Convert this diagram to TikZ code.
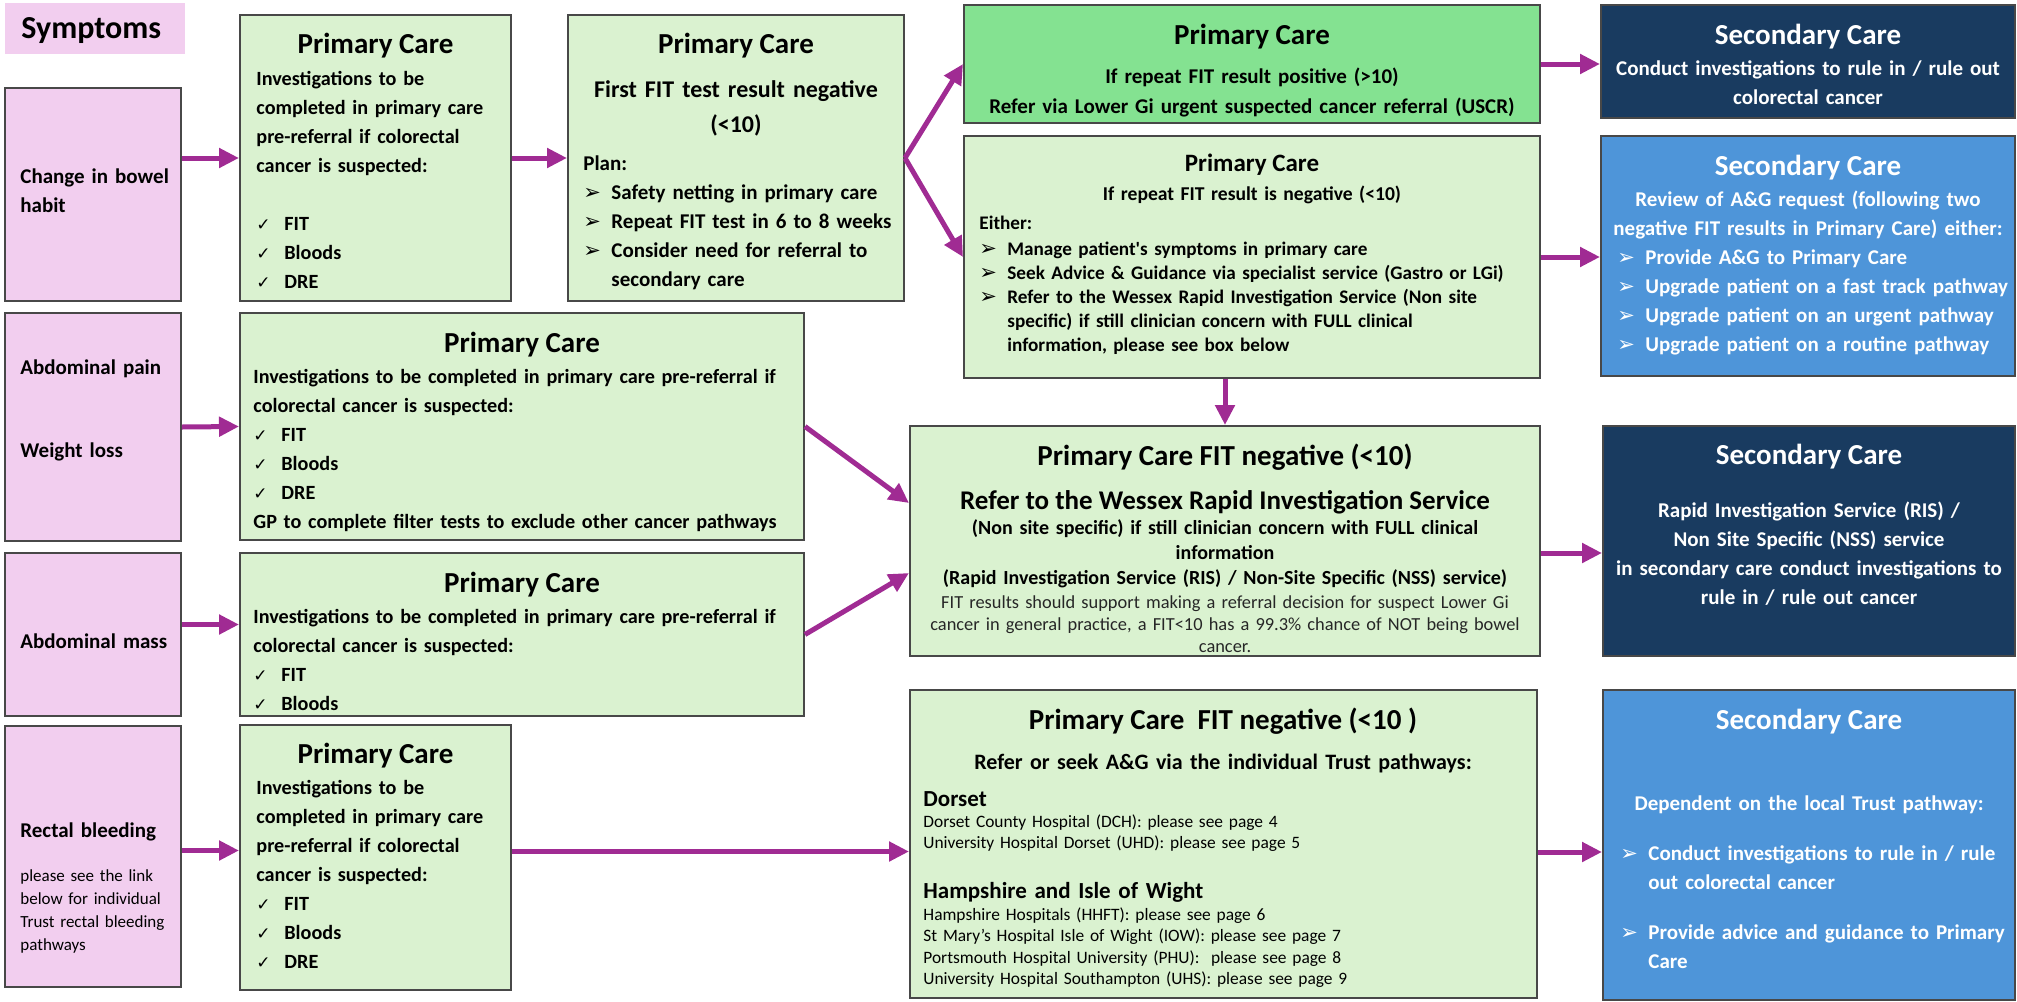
\documentclass[tikz,border=0pt]{standalone}
\usepackage{fontspec}
\setmainfont{Carlito}
\newfontfamily\dingfont{DejaVu Sans}
\usepackage{tikz}
\usetikzlibrary{arrows.meta,fit}

\definecolor{sympink}{RGB}{242,206,239}
\definecolor{pcgreen}{RGB}{218,242,208}
\definecolor{pcbright}{RGB}{132,226,145}
\definecolor{scnavy}{RGB}{25,59,96}
\definecolor{scblue}{RGB}{78,149,217}
\definecolor{flowpurple}{RGB}{160,43,147}
\definecolor{edgegrey}{RGB}{72,72,72}

\newcommand{\tickmark}{\makebox[14pt][l]{\dingfont\mdseries\fontsize{8.5}{10}\selectfont ✓}}
\newcommand{\arrowmark}{\makebox[14pt][l]{\dingfont\mdseries\fontsize{10.5}{10}\selectfont ➢}}
\newcommand{\contd}{\hspace*{14pt}}

\tikzstyle{card}=[draw=edgegrey, line width=1pt, inner sep=0pt]
\tikzstyle{symptom}=[card, fill=sympink]
\tikzstyle{primary}=[card, fill=pcgreen]
\tikzstyle{urgent}=[card, fill=pcbright]
\tikzstyle{secnavy}=[card, fill=scnavy]
\tikzstyle{secblue}=[card, fill=scblue]
\tikzstyle{headtext}=[inner sep=0pt, anchor=base, font=\fontsize{14.5}{17}\selectfont\bfseries]
\tikzstyle{bodytext}=[inner sep=0pt, anchor=base west, align=left, text width=250pt, font=\fontsize{10.5}{14.5}\selectfont\bfseries]
\tikzstyle{narrowtext}=[bodytext, font=\fontsize{10.1}{14.5}\selectfont\bfseries]
\tikzstyle{midtext}=[bodytext, anchor=base, align=center]
\tikzstyle{smalltext}=[inner sep=0pt, anchor=base west, align=left, text width=250pt, font=\fontsize{8.7}{10.75}\selectfont]
\tikzstyle{flowarrow}=[draw=flowpurple, line width=2.5pt, -{Triangle[length=10pt,width=9.5pt]}]

\begin{document}
\begin{tikzpicture}[x=0.5pt, y=-0.5pt]
		\useasboundingbox (0,0) rectangle (2017,1001);
		
		% symptoms column ----------------------------------------
		\node[fill=sympink, inner sep=0pt, fit={(5,3) (185,54)}] (symHead) {};
		\node[headtext, anchor=base west, font=\fontsize{16}{19}\selectfont\bfseries] (symHeadTxt) at (21,38) {Symptoms};
		
		\node[symptom, fit={(5,88) (181,301)}] (sBowel) {};
		\node[bodytext, text width=80pt] (tBowel) at (20,183) {Change in bowel\\habit};
		
		\node[symptom, fit={(5,313) (181,541)}] (sPain) {};
		\node[bodytext, text width=80pt] (tPain) at (20,374) {Abdominal pain};
		\node[bodytext, text width=80pt] (tWeight) at (20,457) {Weight loss};
		
		\node[symptom, fit={(5,553) (181,716)}] (sMass) {};
		\node[bodytext, text width=80pt] (tMass) at (20,648) {Abdominal mass};
		
		\node[symptom, fit={(5,726) (181,987)}] (sBleed) {};
		\node[bodytext, text width=80pt] (tBleed) at (20,837) {Rectal bleeding};
		\node[smalltext, text width=80pt, font=\fontsize{8.5}{11.5}\selectfont] (tBleedNote) at (20,881) {please see the link\\below for individual\\Trust rectal bleeding\\pathways};
		
		% primary care, first step --------------------------------
		\node[primary, fit={(240,15) (511,301)}] (pBowel) {};
		\node[headtext] (hBowel) at (375.5,53) {Primary Care};
		\node[narrowtext, text width=125pt] (bBowel) at (256,85) {Investigations to be\\completed in primary care\\pre-referral if colorectal\\cancer is suspected:\\[14.5pt]\tickmark FIT\\\tickmark Bloods\\\tickmark DRE};
		
		\node[primary, fit={(240,313) (804,540)}] (pPain) {};
		\node[headtext] (hPain) at (522,352) {Primary Care};
		\node[narrowtext, text width=275pt] (bPain) at (253,383) {Investigations to be completed in primary care pre-referral if\\colorectal cancer is suspected:\\\tickmark FIT\\\tickmark Bloods\\\tickmark DRE\\GP to complete filter tests to exclude other cancer pathways};
		
		\node[primary, fit={(240,553) (804,716)}] (pMass) {};
		\node[headtext] (hMass) at (522,592) {Primary Care};
		\node[narrowtext, text width=275pt] (bMass) at (253,623) {Investigations to be completed in primary care pre-referral if\\colorectal cancer is suspected:\\\tickmark FIT\\\tickmark Bloods};
		
		\node[primary, fit={(240,725) (511,990)}] (pBleed) {};
		\node[headtext] (hBleed) at (375.5,763) {Primary Care};
		\node[narrowtext, text width=125pt] (bBleed) at (256,794) {Investigations to be\\completed in primary care\\pre-referral if colorectal\\cancer is suspected:\\\tickmark FIT\\\tickmark Bloods\\\tickmark DRE};
		
		% first FIT result -----------------------------------------
		\node[primary, fit={(568,15) (904,301)}] (pFirst) {};
		\node[headtext] (hFirst) at (736,53) {Primary Care};
		\node[midtext, text width=160pt, font=\fontsize{12}{17.5}\selectfont\bfseries] (bFirst) at (736,97) {First FIT test result negative\\(<10)};
		\node[bodytext, text width=160pt] (bPlan) at (583,170) {Plan:\\\arrowmark Safety netting in primary care\\\arrowmark Repeat FIT test in 6 to 8 weeks\\\arrowmark Consider need for referral to\\\contd secondary care};
		
		% repeat FIT result ----------------------------------------
		\node[urgent, fit={(964,5) (1540,123)}] (pPos) {};
		\node[headtext] (hPos) at (1252,44) {Primary Care};
		\node[midtext, text width=275pt, font=\fontsize{10.5}{15}\selectfont\bfseries] (bPos) at (1252,83) {If repeat FIT result positive (>10)\\Refer via Lower Gi urgent suspected cancer referral (USCR)};
		
		\node[primary, fit={(964,136) (1540,378)}] (pNeg) {};
		\node[headtext, font=\fontsize{12.5}{15}\selectfont\bfseries] (hNeg) at (1252,171) {Primary Care};
		\node[midtext, text width=275pt, font=\fontsize{9.8}{12}\selectfont\bfseries] (bNeg) at (1252,200) {If repeat FIT result is negative (<10)};
		\node[bodytext, text width=275pt, font=\fontsize{9.6}{12}\selectfont\bfseries] (bEither) at (979,229) {Either:\\[1pt]\arrowmark Manage patient\textquotesingle s symptoms in primary care\\\arrowmark Seek Advice \& Guidance via specialist service (Gastro or LGi)\\\arrowmark Refer to the Wessex Rapid Investigation Service (Non site\\\contd specific) if still clinician concern with FULL clinical\\\contd information, please see box below};
		
		% rapid investigation service ------------------------------
		\node[primary, fit={(910,426) (1540,656)}] (pRis) {};
		\node[headtext] (hRis) at (1225,465) {Primary Care FIT negative (<10)};
		\node[headtext, font=\fontsize{13.5}{16}\selectfont\bfseries] (hRisRefer) at (1225,509) {Refer to the Wessex Rapid Investigation Service};
		\node[midtext, text width=305pt, font=\fontsize{10}{12.5}\selectfont\bfseries] (bRis) at (1225,534) {(Non site specific) if still clinician concern with FULL clinical\\information\\(Rapid Investigation Service (RIS) / Non-Site Specific (NSS) service)};
		\node[smalltext, anchor=base, align=center, text width=305pt, text=black!85, font=\fontsize{9.2}{11}\selectfont] (nRis) at (1225,608) {FIT results should support making a referral decision for suspect Lower Gi\\cancer in general practice, a FIT<10 has a 99.3\% chance of NOT being bowel\\cancer.};
		
		% trust pathways -------------------------------------------
		\node[primary, fit={(910,690) (1537,998)}] (pTrust) {};
		\node[headtext] (hTrust) at (1223,729) {Primary Care\ \ FIT negative (<10 )};
		\node[midtext, text width=300pt, font=\fontsize{11}{13}\selectfont\bfseries] (bTrust) at (1223,769) {Refer or seek A\&G via the individual Trust pathways:};
		\node[bodytext, font=\fontsize{11.5}{13}\selectfont\bfseries] (dorsetHd) at (923,806) {Dorset};
		\node[smalltext] (dorsetTx) at (923,827) {Dorset County Hospital (DCH): please see page 4\\University Hospital Dorset (UHD): please see page 5};
		\node[bodytext, font=\fontsize{11.5}{13}\selectfont\bfseries] (hiowHd) at (923,898) {Hampshire and Isle of Wight};
		\node[smalltext] (hiowTx) at (923,920) {Hampshire Hospitals (HHFT): please see page 6\\St Mary’s Hospital Isle of Wight (IOW): please see page 7\\Portsmouth Hospital University (PHU):\ \ please see page 8\\University Hospital Southampton (UHS): please see page 9};
		
		% secondary care -------------------------------------------
		\node[secnavy, fit={(1601,5) (2015,118)}] (sConf) {};
		\node[headtext, text=white] (hsConf) at (1808,44) {Secondary Care};
		\node[midtext, text=white, text width=200pt] (bsConf) at (1808,75) {Conduct investigations to rule in / rule out\\colorectal cancer};
		
		\node[secblue, fit={(1601,136) (2015,376)}] (sReview) {};
		\node[headtext, text=white] (hsReview) at (1808,175) {Secondary Care};
		\node[midtext, text=white, text width=205pt] (bsReview) at (1808,206) {Review of A\&G request (following two\\negative FIT results in Primary Care) either:};
		\node[bodytext, text=white, text width=215pt] (lsReview) at (1617,264) {\arrowmark Provide A\&G to Primary Care\\\arrowmark Upgrade patient on a fast track pathway\\\arrowmark Upgrade patient on an urgent pathway\\\arrowmark Upgrade patient on a routine pathway};
		
		\node[secnavy, fit={(1603,426) (2015,656)}] (sRis) {};
		\node[headtext, text=white] (hsRis) at (1809,464) {Secondary Care};
		\node[midtext, text=white, text width=205pt] (bsRis) at (1809,517) {Rapid Investigation Service (RIS) /\\Non Site Specific (NSS) service\\in secondary care conduct investigations to\\rule in / rule out cancer};
		
		\node[secblue, fit={(1603,690) (2015,1000)}] (sTrust) {};
		\node[headtext, text=white] (hsTrust) at (1809,729) {Secondary Care};
		\node[midtext, text=white, text width=200pt] (bsTrust) at (1809,810) {Dependent on the local Trust pathway:};
		\node[bodytext, text=white, text width=195pt] (lsTrust) at (1620,860) {\arrowmark Conduct investigations to rule in / rule\\\contd out colorectal cancer\\[10.5pt]\arrowmark Provide advice and guidance to Primary\\\contd Care};
		
		% arrows ---------------------------------------------------
		\draw[flowarrow] (sBowel.east |- pBowel.west) -- (pBowel.west);
		\draw[flowarrow] (pBowel.east) -- (pFirst.west);
		\draw[flowarrow] (pFirst.east) -- (pPos.west);
		\draw[flowarrow] (pFirst.east) -- (pNeg.west);
		\draw[flowarrow] (pPos.east) -- (pPos.east -| sConf.west);
		\draw[flowarrow] (pNeg.east) -- (pNeg.east -| sReview.west);
		\draw[flowarrow] (pNeg.south -| pRis.north) -- (pRis.north);
		
		\draw[flowarrow] (sPain.east) -- (pPain.west);
		\draw[flowarrow] (pPain.east) -- ([yshift=19pt]pRis.west);
		\draw[flowarrow] ([yshift=5pt]sMass.east) -- ([yshift=5pt]pMass.west);
		\draw[flowarrow] (pMass.east) -- ([yshift=-16pt]pRis.west);
		\draw[flowarrow] ([yshift=-6pt]pRis.east) -- ([yshift=-6pt]pRis.east -| sRis.west);
		
		\draw[flowarrow] ([yshift=3pt]sBleed.east) -- ([yshift=3pt]sBleed.east -| pBleed.west);
		\draw[flowarrow] ([yshift=3pt]pBleed.east) -- ([yshift=3pt]pBleed.east -| pTrust.west);
		\draw[flowarrow] ([yshift=-4pt]pTrust.east) -- ([yshift=-4pt]pTrust.east -| sTrust.west);
\end{tikzpicture}
\end{document}
